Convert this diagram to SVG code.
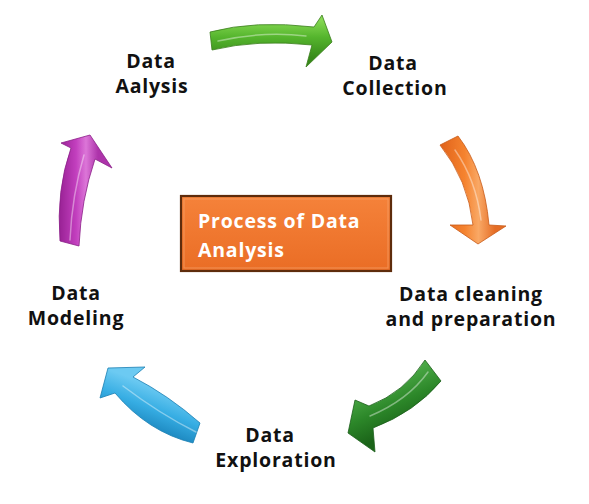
<svg xmlns="http://www.w3.org/2000/svg" width="589" height="504" viewBox="0 0 589 504">
  <style>
    .lbl { font-family: "Open Sans", "Noto Sans", "DejaVu Sans", sans-serif; font-weight: 700; font-size: 19.5px; letter-spacing: 0.8px; fill: #111; text-anchor: middle; }
    .title { font-family: "Open Sans", "Noto Sans", "DejaVu Sans", sans-serif; font-weight: 700; font-size: 19.5px; letter-spacing: 0.8px; fill: #ffffff; }
    .shine { fill: none; stroke: #ffffff; stroke-opacity: 0.4; stroke-width: 1.5; stroke-linecap: round; }
  </style>
  <defs>
    <linearGradient id="gGreen" gradientUnits="userSpaceOnUse" x1="0" y1="20" x2="0" y2="58">
      <stop offset="0" stop-color="#86d853"/>
      <stop offset="0.45" stop-color="#55b52d"/>
      <stop offset="1" stop-color="#37891a"/>
    </linearGradient>
    <linearGradient id="gOrange" gradientUnits="userSpaceOnUse" x1="440" y1="0" x2="495" y2="0">
      <stop offset="0" stop-color="#e0621a"/>
      <stop offset="0.45" stop-color="#f5832f"/>
      <stop offset="0.7" stop-color="#f9a865"/>
      <stop offset="1" stop-color="#e56d25"/>
    </linearGradient>
    <linearGradient id="gDark" gradientUnits="userSpaceOnUse" x1="400" y1="375" x2="420" y2="420">
      <stop offset="0" stop-color="#4aa845"/>
      <stop offset="0.5" stop-color="#2c8729"/>
      <stop offset="1" stop-color="#1b6419"/>
    </linearGradient>
    <linearGradient id="gBlue" gradientUnits="userSpaceOnUse" x1="150" y1="385" x2="135" y2="425">
      <stop offset="0" stop-color="#6ccaf2"/>
      <stop offset="0.5" stop-color="#36ade3"/>
      <stop offset="1" stop-color="#1b86be"/>
    </linearGradient>
    <linearGradient id="gMag" gradientUnits="userSpaceOnUse" x1="58" y1="0" x2="98" y2="0">
      <stop offset="0" stop-color="#951f91"/>
      <stop offset="0.45" stop-color="#c23fbe"/>
      <stop offset="0.7" stop-color="#dc76d8"/>
      <stop offset="1" stop-color="#ad33aa"/>
    </linearGradient>
    <linearGradient id="gBox" x1="0" y1="0" x2="0" y2="1">
      <stop offset="0" stop-color="#f5823a"/>
      <stop offset="1" stop-color="#ea6d25"/>
    </linearGradient>
  </defs>

  <!-- cycle arrows -->
  <g id="connectors">
    <g id="arrow-top">
      <path d="M210,32 Q255,20 314,27 L322,15 L332,42 L306,67 L312,45 Q258,39 212,50 Z" fill="url(#gGreen)" stroke="#3a7d1c" stroke-width="0.8"/>
      <path class="shine" d="M218,41 Q262,31 306,36"/>
    </g>
    <g id="arrow-right">
      <path d="M440,145 L458,136 Q484,170 489,225 L506,226 L478,244 L450,225 L473,225 Q468,180 440,145 Z" fill="url(#gOrange)" stroke="#c85a18" stroke-width="0.8"/>
      <path class="shine" d="M455,150 Q476,180 481,220"/>
    </g>
    <g id="arrow-bottom-right">
      <path d="M425,360 L441,381 Q415,412 373,428 L375,452 L348,433 L355,400 L369,406 Q405,392 425,360 Z" fill="url(#gDark)" stroke="#1c5e1a" stroke-width="0.8"/>
      <path class="shine" d="M428,372 Q408,400 370,416" stroke-opacity="0.3"/>
    </g>
    <g id="arrow-bottom-left">
      <path d="M108,368 L145,367 L133,377 Q168,395 200,423 L193,443 Q148,432 115,393 L100,398 Z" fill="url(#gBlue)" stroke="#1b7fb3" stroke-width="0.8"/>
      <path class="shine" d="M123,386 Q160,414 196,432"/>
    </g>
    <g id="arrow-left">
      <path d="M90,135 L112,168 L95,159 Q81,200 79,246 L60,241 Q56,190 71,148 L61,143 Z" fill="url(#gMag)" stroke="#8a1e88" stroke-width="0.8"/>
      <path class="shine" d="M84,155 Q72,195 70,240"/>
    </g>
  </g>

  <!-- centre title box -->
  <g id="title-box">
    <rect x="181" y="196" width="210" height="75" fill="url(#gBox)" stroke="#5e2c0c" stroke-width="2.2"/>
    <rect x="184" y="199" width="204" height="69" fill="none" stroke="#f9a46a" stroke-width="1.2" stroke-opacity="0.6"/>
    <text class="title" x="198" y="228">Process of Data</text>
    <text class="title" x="198" y="257">Analysis</text>
  </g>

  <!-- stage labels -->
  <g id="node-analysis">
    <text class="lbl" x="151" y="68">Data</text>
    <text class="lbl" x="152" y="93">Aalysis</text>
  </g>
  <g id="node-collection">
    <text class="lbl" x="393" y="70">Data</text>
    <text class="lbl" x="395" y="95">Collection</text>
  </g>
  <g id="node-cleaning">
    <text class="lbl" x="471" y="301">Data cleaning</text>
    <text class="lbl" x="471" y="326">and preparation</text>
  </g>
  <g id="node-exploration">
    <text class="lbl" x="270" y="442">Data</text>
    <text class="lbl" x="276" y="467">Exploration</text>
  </g>
  <g id="node-modeling">
    <text class="lbl" x="76" y="300">Data</text>
    <text class="lbl" x="76" y="325">Modeling</text>
  </g>
</svg>
